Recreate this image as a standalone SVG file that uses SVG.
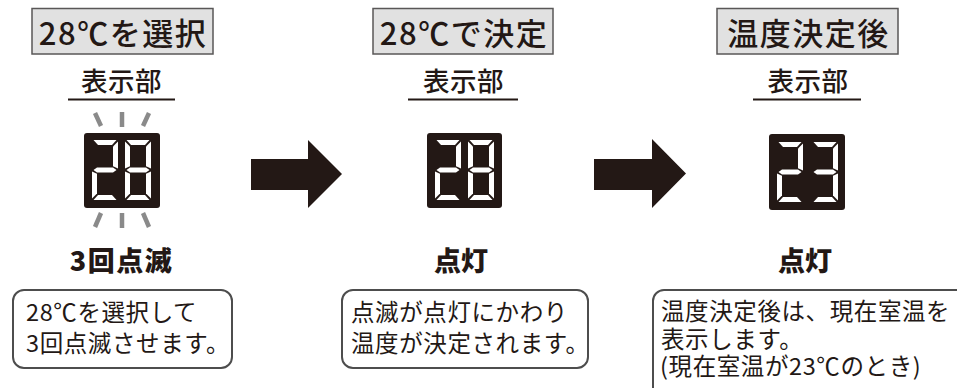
<svg xmlns="http://www.w3.org/2000/svg" xmlns:xlink="http://www.w3.org/1999/xlink" width="957" height="388" viewBox="0 0 957 388">
<style>
text{font-family:"Noto Sans CJK JP","Noto Sans",sans-serif;fill:#231815;font-weight:500}
.title{font-size:31px;letter-spacing:1.5px}
.tbox{fill:#e1e1e1;stroke:#595757;stroke-width:1.5}
.lbl{font-size:26.5px;letter-spacing:0.5px}
.uline{stroke:#231815;stroke-width:2}
.disp{fill:#231815}
.seg{fill:#ffffff}
.ray{stroke:#8a8a8a;stroke-width:4.5;fill:none}
.status{font-size:27px;font-weight:900}
.bubble{fill:#ffffff;stroke:#4d4d4d;stroke-width:2}
.btxt{font-size:23.5px;letter-spacing:0.6px;font-weight:400}
.arrow{fill:#231815}
</style>
<defs>
<polygon id="sa" class="seg" points="1.5,0 24.5,0 20,5 6,5"/>
<polygon id="sf" class="seg" points="0,1.5 5,6.5 5,26.3 0,28.5"/>
<polygon id="sb" class="seg" points="26,1.5 26,28.5 21,26.3 21,6.5"/>
<polygon id="sg" class="seg" points="1.5,30 5,27.5 21,27.5 24.5,30 21,32.5 5,32.5"/>
<polygon id="se" class="seg" points="0,31.5 5,33.7 5,53.5 0,58.5"/>
<polygon id="sc" class="seg" points="26,31.5 26,58.5 21,53.5 21,33.7"/>
<polygon id="sd" class="seg" points="1.5,60 6,55 20,55 24.5,60"/>
<g id="d2"><use xlink:href="#sa"/><use xlink:href="#sb"/><use xlink:href="#sg"/><use xlink:href="#se"/><use xlink:href="#sd"/></g>
<g id="d3"><use xlink:href="#sa"/><use xlink:href="#sb"/><use xlink:href="#sg"/><use xlink:href="#sc"/><use xlink:href="#sd"/></g>
<g id="d8"><use xlink:href="#sa"/><use xlink:href="#sb"/><use xlink:href="#sf"/><use xlink:href="#sg"/><use xlink:href="#se"/><use xlink:href="#sc"/><use xlink:href="#sd"/></g>
</defs>

<!-- Column 1 -->
<g id="title1">
<rect class="tbox" x="32" y="8.5" width="181" height="45.5"/>
<text class="title" x="123" y="44.5" text-anchor="middle">28℃を選択</text>
</g>
<g id="label1">
<text class="lbl" x="121.5" y="91" text-anchor="middle">表示部</text>
<line class="uline" x1="68" y1="99.5" x2="175" y2="99.5"/>
</g>
<g id="display1">
<line class="ray" x1="95" y1="113" x2="101" y2="126"/>
<line class="ray" x1="122" y1="112" x2="122" y2="127"/>
<line class="ray" x1="149" y1="113" x2="143" y2="126"/>
<rect class="disp" x="84" y="133" width="76" height="75" rx="3"/>
<use xlink:href="#d2" x="92" y="140"/>
<use xlink:href="#d8" x="125" y="140"/>
<line class="ray" x1="101" y1="213" x2="95" y2="227"/>
<line class="ray" x1="122" y1="213" x2="122" y2="228"/>
<line class="ray" x1="143" y1="213" x2="149" y2="227"/>
</g>
<g id="status1">
<text class="status" x="121.5" y="271" text-anchor="middle" letter-spacing="1.5">3回点滅</text>
</g>
<g id="note1">
<rect class="bubble" x="13" y="290" width="219" height="78" rx="11"/>
<text class="btxt" x="26" y="321">28℃を選択して</text>
<text class="btxt" x="26" y="352">3回点滅させます。</text>
</g>

<!-- Column 2 -->
<g id="title2">
<rect class="tbox" x="373" y="8.5" width="180" height="45.5"/>
<text class="title" x="464" y="44.5" text-anchor="middle">28℃で決定</text>
</g>
<g id="label2">
<text class="lbl" x="463.5" y="91" text-anchor="middle">表示部</text>
<line class="uline" x1="408" y1="99.5" x2="518" y2="99.5"/>
</g>
<g id="display2">
<rect class="disp" x="427" y="133" width="75" height="75" rx="3"/>
<use xlink:href="#d2" x="435" y="140"/>
<use xlink:href="#d8" x="468" y="140"/>
</g>
<g id="status2">
<text class="status" x="461" y="271" text-anchor="middle">点灯</text>
</g>
<g id="note2">
<rect class="bubble" x="342" y="290" width="246" height="78" rx="11"/>
<text class="btxt" x="351" y="321">点滅が点灯にかわり</text>
<text class="btxt" x="351" y="352">温度が決定されます。</text>
</g>

<!-- Column 3 -->
<g id="title3">
<rect class="tbox" x="717" y="8.5" width="181" height="45.5"/>
<text class="title" x="808.5" y="44.5" text-anchor="middle">温度決定後</text>
</g>
<g id="label3">
<text class="lbl" x="808" y="91" text-anchor="middle">表示部</text>
<line class="uline" x1="753" y1="99.5" x2="861" y2="99.5"/>
</g>
<g id="display3">
<rect class="disp" x="769" y="134" width="76" height="76" rx="3"/>
<use xlink:href="#d2" x="777" y="142"/>
<use xlink:href="#d3" x="812" y="142"/>
</g>
<g id="status3">
<text class="status" x="805" y="271" text-anchor="middle">点灯</text>
</g>
<g id="note3">
<rect class="bubble" x="653" y="290" width="330" height="130" rx="11"/>
<text class="btxt" x="661" y="320">温度決定後は、現在室温を</text>
<text class="btxt" x="661" y="348">表示します。</text>
<text class="btxt" x="660" y="375">(現在室温が23℃のとき)</text>
</g>

<!-- Connectors -->
<g id="connectors">
<polygon class="arrow" points="251,159 308,159 308,140 342,174 308,208 308,190 251,190"/>
<polygon class="arrow" points="594,159 652,159 652,139 686,173.5 652,208 652,190 594,190"/>
</g>
</svg>
